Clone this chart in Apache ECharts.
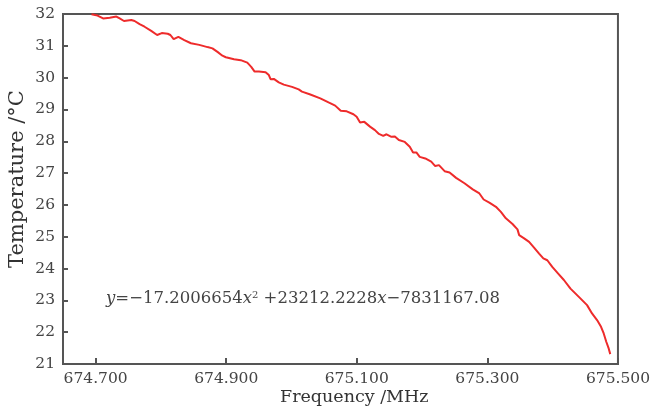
<!DOCTYPE html>
<html>
<head>
<meta charset="utf-8">
<script src="https://cdn.jsdelivr.net/npm/echarts@6/dist/echarts.min.js"></script>
<style>
  html, body { margin: 0; padding: 0; background: #fff; }
  #chart { width: 653px; height: 413px; }
</style>
</head>
<body>
<div id="chart"></div>
<script>
// measured frequency (MHz) and temperature (°C)
const freq = [
  674.6937, 674.7029, 674.7114, 674.7216, 674.7318, 674.7368, 674.7434, 674.7546, 674.7597, 674.7673,
  674.7749, 674.7851, 674.7942, 674.8013, 674.8104, 674.8145, 674.8195, 674.8267, 674.8358, 674.8460,
  674.8587, 674.8713, 674.8789, 674.8866, 674.8942, 674.8994, 674.9120, 674.9222, 674.9323, 674.9383,
  674.9435, 674.9501, 674.9603, 674.9653, 674.9679, 674.9729, 674.9805, 674.9882, 675.0008, 675.0110,
  675.0160, 675.0288, 675.0441, 675.0567, 675.0669, 675.0754, 675.0846, 675.0872, 675.0948, 675.0998,
  675.1050, 675.1115, 675.1202, 675.1278, 675.1339, 675.1405, 675.1455, 675.1531, 675.1583, 675.1644,
  675.1735, 675.1811, 675.1862, 675.1912, 675.1964, 675.2049, 675.2140, 675.2201, 675.2258, 675.2345,
  675.2421, 675.2521, 675.2649, 675.2776, 675.2878, 675.2943, 675.3030, 675.3131, 675.3207, 675.3283,
  675.3385, 675.3461, 675.3487, 675.3563, 675.3639, 675.3715, 675.3792, 675.3857, 675.3918, 675.3994,
  675.4081, 675.4172, 675.4273, 675.4401, 675.4527, 675.4603, 675.4680, 675.4741, 675.4782, 675.4821,
  675.4858, 675.4882
]
const temp = [
  31.99, 31.95, 31.86, 31.88, 31.92, 31.86, 31.78, 31.81, 31.78, 31.68,
  31.60, 31.47, 31.34, 31.40, 31.38, 31.34, 31.21, 31.28, 31.18, 31.08,
  31.03, 30.96, 30.92, 30.81, 30.69, 30.64, 30.58, 30.55, 30.47, 30.34,
  30.19, 30.19, 30.17, 30.08, 29.95, 29.96, 29.85, 29.78, 29.71, 29.63,
  29.56, 29.47, 29.35, 29.22, 29.12, 28.96, 28.94, 28.93, 28.85, 28.77,
  28.59, 28.61, 28.46, 28.35, 28.23, 28.17, 28.22, 28.14, 28.15, 28.04,
  27.98, 27.83, 27.65, 27.65, 27.51, 27.46, 27.36, 27.22, 27.25, 27.06,
  27.02, 26.85, 26.68, 26.49, 26.36, 26.17, 26.07, 25.94, 25.78, 25.58,
  25.40, 25.23, 25.05, 24.95, 24.84, 24.66, 24.47, 24.32, 24.26, 24.05,
  23.85, 23.64, 23.37, 23.11, 22.85, 22.59, 22.38, 22.17, 21.96, 21.70,
  21.49, 21.31
]
const xTicks = [674.7, 674.9, 675.1, 675.3, 675.5]

const serif = '"DejaVu Serif", "Liberation Serif", serif'
const axisColor = '#555'

let myChart = echarts.init(document.getElementById('chart'))
myChart.setOption({
  animation: false,
  grid: {
    left: 63,
    right: 31,
    top: 14,
    bottom: 49,
    show: true,
    borderColor: axisColor,
    borderWidth: 2
  },
  xAxis: {
    type: 'value',
    min: 674.65,
    max: 675.5,
    axisLine: { show: true, lineStyle: { color: axisColor, width: 2 } },
    axisTick: {
      show: true,
      inside: true,
      length: 6,
      customValues: xTicks,
      lineStyle: { color: axisColor, width: 2 }
    },
    axisLabel: {
      customValues: xTicks,
      formatter: v => v.toFixed(3),
      color: '#444',
      fontFamily: serif,
      fontSize: 15.5,
      margin: 7
    },
    splitLine: { show: false }
  },
  yAxis: {
    type: 'value',
    min: 21,
    max: 32,
    interval: 1,
    axisLine: { show: true, lineStyle: { color: axisColor, width: 2 } },
    axisTick: {
      show: true,
      inside: true,
      length: 5,
      lineStyle: { color: axisColor, width: 2 }
    },
    axisLabel: {
      color: '#444',
      fontFamily: serif,
      fontSize: 15.5,
      margin: 8
    },
    splitLine: { show: false }
  },
  graphic: [
    {
      type: 'text',
      left: 280,
      top: 388,
      style: { text: 'Frequency /MHz', fill: '#333', font: '17.5px ' + serif }
    },
    {
      type: 'text',
      x: 7,
      y: 268,
      rotation: Math.PI / 2,
      style: { text: 'Temperature /°C', fill: '#333', font: '21px ' + serif }
    },
    {
      type: 'text',
      left: 106,
      top: 290,
      style: {
        text: '{i|y}=−17.2006654{i|x}{s|2} +23212.2228{i|x}−7831167.08',
        fill: '#444',
        font: '16.5px ' + serif,
        rich: {
          i: { fontStyle: 'italic', fontFamily: serif, fontSize: 16.5, fill: '#444' },
          s: { fontFamily: serif, fontSize: 10, fill: '#444', verticalAlign: 'top', padding: [0, 0, 8, 0] }
        }
      }
    }
  ],
  series: [{
    type: 'line',
    data: freq.map((f, i) => [f, temp[i]]),
    showSymbol: false,
    smooth: false,
    lineStyle: { color: '#ee2b2b', width: 2 },
    itemStyle: { color: '#ee2b2b' }
  }]
})
</script>
</body>
</html>
